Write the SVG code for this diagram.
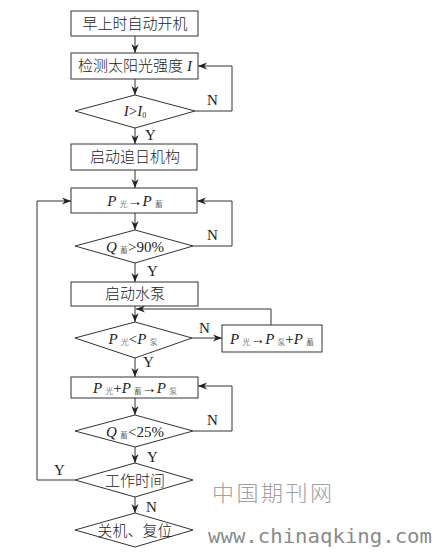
<svg xmlns="http://www.w3.org/2000/svg" width="438" height="554" viewBox="0 0 438 554">
<defs>
<style>
.box{fill:#fff;stroke:#333;stroke-width:1}
.ln{fill:none;stroke:#333;stroke-width:1}
.t{font-family:"Liberation Serif","Noto Sans CJK SC",serif;font-size:15px;fill:#222;text-anchor:middle;font-weight:300}
.i{font-style:italic}
.s{font-size:8px}
.lb{font-family:"Liberation Serif",serif;font-size:15px;fill:#222}
.wm{font-family:"Noto Sans CJK SC",sans-serif;font-size:22px;fill:#a0a0a0;font-weight:300}
.wm2{font-family:"DejaVu Sans Mono",monospace;font-size:20px;fill:#8a8a8a}
</style>
<marker id="ah" viewBox="0 0 10 10" refX="10" refY="5" markerWidth="9" markerHeight="9" markerUnits="userSpaceOnUse" orient="auto">
<path d="M0,1 L10,5 L0,9 L3,5 Z" fill="#222"/>
</marker>
</defs>
<rect width="438" height="554" fill="#fff"/>
<g id="connectors">
<path class="ln" d="M135,36 V53" marker-end="url(#ah)"/>
<path class="ln" d="M135,79 V95" marker-end="url(#ah)"/>
<path class="ln" d="M195,111 H232 V66 H198" marker-end="url(#ah)"/>
<path class="ln" d="M135,128 V144" marker-end="url(#ah)"/>
<path class="ln" d="M135,170 V188" marker-end="url(#ah)"/>
<path class="ln" d="M135,213 V230" marker-end="url(#ah)"/>
<path class="ln" d="M193,246 H232 V201 H197" marker-end="url(#ah)"/>
<path class="ln" d="M135,263 V282" marker-end="url(#ah)"/>
<path class="ln" d="M135,306 V322" marker-end="url(#ah)"/>
<path class="ln" d="M192,338 H222" marker-end="url(#ah)"/>
<path class="ln" d="M271,325 V309 H136" marker-end="url(#ah)"/>
<path class="ln" d="M135,358 V377" marker-end="url(#ah)"/>
<path class="ln" d="M135,398 V415" marker-end="url(#ah)"/>
<path class="ln" d="M193,431 H232 V386 H198" marker-end="url(#ah)"/>
<path class="ln" d="M135,447 V463" marker-end="url(#ah)"/>
<path class="ln" d="M75,480 H37 V201 H71" marker-end="url(#ah)"/>
<path class="ln" d="M135,497 V513" marker-end="url(#ah)"/>
<text class="lb" x="207" y="105">N</text>
<text class="lb" x="145" y="140">Y</text>
<text class="lb" x="207" y="240">N</text>
<text class="lb" x="147" y="276">Y</text>
<text class="lb" x="199" y="333">N</text>
<text class="lb" x="143" y="367">Y</text>
<text class="lb" x="207" y="425">N</text>
<text class="lb" x="147" y="462">Y</text>
<text class="lb" x="54" y="475">Y</text>
<text class="lb" x="146" y="512">N</text>
</g>
<g id="n1"><rect class="box" x="71" y="11" width="127" height="25"/><text class="t" x="135" y="29">早上时自动开机</text></g>
<g id="n2"><rect class="box" x="71" y="53" width="127" height="26"/><text class="t" x="135" y="71">检测太阳光强度 <tspan class="i">I</tspan></text></g>
<g id="n3"><polygon class="box" points="135,95 195,111 135,128 75,111"/><text class="t" x="135" y="116"><tspan class="i">I</tspan>&gt;<tspan class="i">I</tspan><tspan class="s" dy="2">0</tspan></text></g>
<g id="n4"><rect class="box" x="71" y="144" width="126" height="26"/><text class="t" x="135" y="162">启动追日机构</text></g>
<g id="n5"><rect class="box" x="71" y="188" width="126" height="25"/><text class="t" x="135" y="206"><tspan class="i">P</tspan><tspan class="s" dx="3" dy="1">光</tspan><tspan dy="-1">→</tspan><tspan class="i">P</tspan><tspan class="s" dx="3" dy="1">蓄</tspan></text></g>
<g id="n6"><polygon class="box" points="135,230 193,246 135,263 75,246"/><text class="t" x="135" y="252"><tspan class="i">Q</tspan><tspan class="s" dx="3" dy="1">蓄</tspan><tspan dy="-1">&gt;90%</tspan></text></g>
<g id="n7"><rect class="box" x="71" y="282" width="127" height="24"/><text class="t" x="135" y="299">启动水泵</text></g>
<g id="n8"><polygon class="box" points="135,322 192,338 135,358 75,338"/><text class="t" x="133" y="344"><tspan class="i">P</tspan><tspan class="s" dx="3" dy="1">光</tspan><tspan dy="-1">&lt;</tspan><tspan class="i">P</tspan><tspan class="s" dx="3" dy="1">泵</tspan></text></g>
<g id="n9"><rect class="box" x="222" y="325" width="100" height="27"/><text class="t" x="272" y="344"><tspan class="i">P</tspan><tspan class="s" dx="3" dy="1">光</tspan><tspan dy="-1">→</tspan><tspan class="i">P</tspan><tspan class="s" dx="3" dy="1">泵</tspan><tspan dy="-1">+</tspan><tspan class="i">P</tspan><tspan class="s" dx="3" dy="1">蓄</tspan></text></g>
<g id="n10"><rect class="box" x="71" y="377" width="127" height="21"/><text class="t" x="135" y="393"><tspan class="i">P</tspan><tspan class="s" dx="3" dy="1">光</tspan><tspan dy="-1">+</tspan><tspan class="i">P</tspan><tspan class="s" dx="3" dy="1">蓄</tspan><tspan dy="-1">→</tspan><tspan class="i">P</tspan><tspan class="s" dx="3" dy="1">泵</tspan></text></g>
<g id="n11"><polygon class="box" points="135,415 193,431 135,447 75,431"/><text class="t" x="135" y="437"><tspan class="i">Q</tspan><tspan class="s" dx="3" dy="1">蓄</tspan><tspan dy="-1">&lt;25%</tspan></text></g>
<g id="n12"><polygon class="box" points="135,463 193,480 135,497 75,480"/><text class="t" x="135" y="486">工作时间</text></g>
<g id="n13"><polygon class="box" points="135,513 193,530 135,547 75,530"/><text class="t" x="135" y="536">关机、复位</text></g>
<g id="watermark">
<text class="wm" x="212" y="501" textLength="120">中国期刊网</text>
<text class="wm2" x="208" y="543" textLength="224" lengthAdjust="spacingAndGlyphs">www.chinaqking.com</text>
</g>
</svg>
